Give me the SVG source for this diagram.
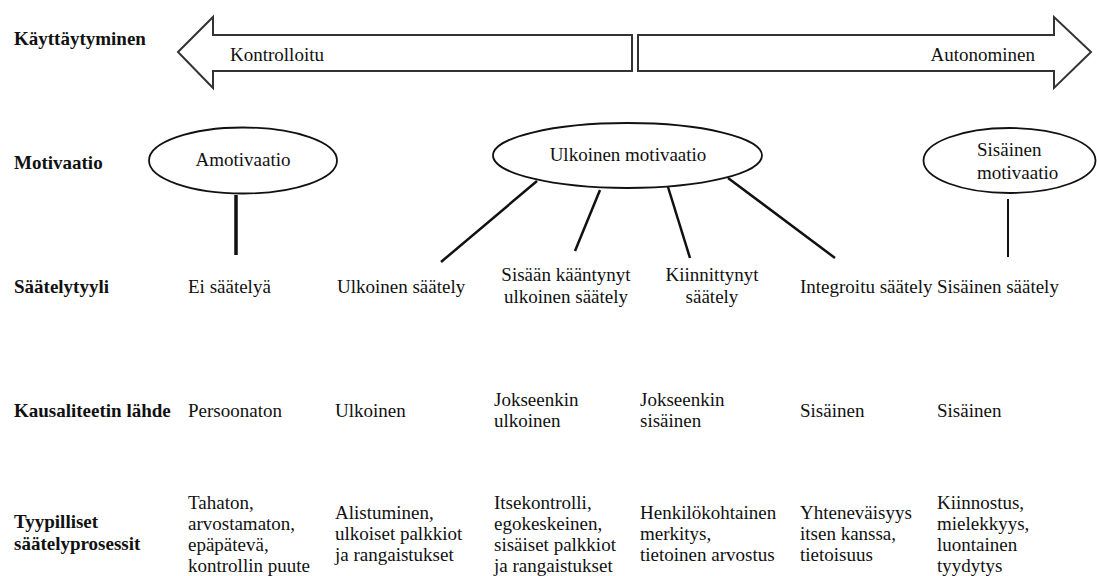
<svg xmlns="http://www.w3.org/2000/svg" width="1097" height="576" viewBox="0 0 1097 576" font-family="'Liberation Serif', 'Times New Roman', 'DejaVu Serif', serif">
<style>
text{font-family:'Liberation Serif','Times New Roman','DejaVu Serif',serif;font-size:19px;fill:#111}
.b{font-weight:bold}
.m{text-anchor:middle}
.arrow{fill:#fff;stroke:#333;stroke-width:2;stroke-linejoin:miter}
.ell{fill:#fff;stroke:#111;stroke-width:1.8}
.c{stroke:#111;stroke-width:2.5;fill:none}
</style>
<rect width="1097" height="576" fill="#fff"/>
<g id="labels">
<text class="b" x="14" y="45">Käyttäytyminen</text>
<text class="b" x="14" y="169">Motivaatio</text>
<text class="b" x="14" y="293">Säätelytyyli</text>
<text class="b" x="14" y="417">Kausaliteetin lähde</text>
<text class="b" x="14" y="528">Tyypilliset</text>
<text class="b" x="14" y="550">säätelyprosessit</text>
</g>
<g id="arrow-kontrolloitu">
<polygon class="arrow" points="178,52 213,17 213,35 632,35 632,71 213,71 213,88"/>
<text x="230" y="61">Kontrolloitu</text>
</g>
<g id="arrow-autonominen">
<polygon class="arrow" points="638,35 1054,35 1054,17 1091,52 1054,88 1054,71 638,71"/>
<text x="1035" y="61" text-anchor="end">Autonominen</text>
</g>
<g id="connectors">
<line class="c" x1="236" y1="195" x2="236" y2="255" style="stroke-width:3.5"/>
<line class="c" x1="537" y1="181" x2="441" y2="262"/>
<line class="c" x1="600" y1="190" x2="575" y2="251"/>
<line class="c" x1="668" y1="187" x2="690" y2="258"/>
<line class="c" x1="728" y1="178" x2="835" y2="258"/>
<line class="c" x1="1008" y1="199" x2="1008" y2="257" style="stroke-width:2"/>
</g>
<g id="amotivaatio">
<ellipse class="ell" cx="243" cy="160.5" rx="94" ry="33"/>
<text class="m" x="243" y="166">Amotivaatio</text>
</g>
<g id="ulkoinen-motivaatio">
<ellipse class="ell" cx="627.5" cy="155.5" rx="134.5" ry="32.5"/>
<text class="m" x="628" y="161">Ulkoinen motivaatio</text>
</g>
<g id="sisainen-motivaatio">
<ellipse class="ell" cx="1009.5" cy="160.5" rx="86" ry="32.5"/>
<text x="977" y="156">Sisäinen</text>
<text x="977" y="179">motivaatio</text>
</g>
<g id="saatelytyyli">
<text x="188" y="293">Ei säätelyä</text>
<text x="337" y="293">Ulkoinen säätely</text>
<text class="m" x="566" y="281">Sisään kääntynyt</text>
<text class="m" x="566" y="303">ulkoinen säätely</text>
<text class="m" x="712" y="281">Kiinnittynyt</text>
<text class="m" x="712" y="303">säätely</text>
<text x="800" y="293">Integroitu säätely</text>
<text x="937" y="293">Sisäinen säätely</text>
</g>
<g id="kausaliteetti">
<text x="188" y="417">Persoonaton</text>
<text x="335" y="417">Ulkoinen</text>
<text x="494" y="406">Jokseenkin</text>
<text x="494" y="427">ulkoinen</text>
<text x="640" y="406">Jokseenkin</text>
<text x="640" y="427">sisäinen</text>
<text x="800" y="417">Sisäinen</text>
<text x="937" y="417">Sisäinen</text>
</g>
<g id="prosessit">
<text x="188" y="509">Tahaton,</text>
<text x="188" y="530">arvostamaton,</text>
<text x="188" y="551">epäpätevä,</text>
<text x="188" y="572">kontrollin puute</text>
<text x="335" y="519">Alistuminen,</text>
<text x="335" y="540">ulkoiset palkkiot</text>
<text x="335" y="561">ja rangaistukset</text>
<text x="494" y="509">Itsekontrolli,</text>
<text x="494" y="530">egokeskeinen,</text>
<text x="494" y="551">sisäiset palkkiot</text>
<text x="494" y="572">ja rangaistukset</text>
<text x="640" y="519">Henkilökohtainen</text>
<text x="640" y="540">merkitys,</text>
<text x="640" y="561">tietoinen arvostus</text>
<text x="800" y="519">Yhteneväisyys</text>
<text x="800" y="540">itsen kanssa,</text>
<text x="800" y="561">tietoisuus</text>
<text x="937" y="509">Kiinnostus,</text>
<text x="937" y="530">mielekkyys,</text>
<text x="937" y="551">luontainen</text>
<text x="937" y="572">tyydytys</text>
</g>
</svg>
